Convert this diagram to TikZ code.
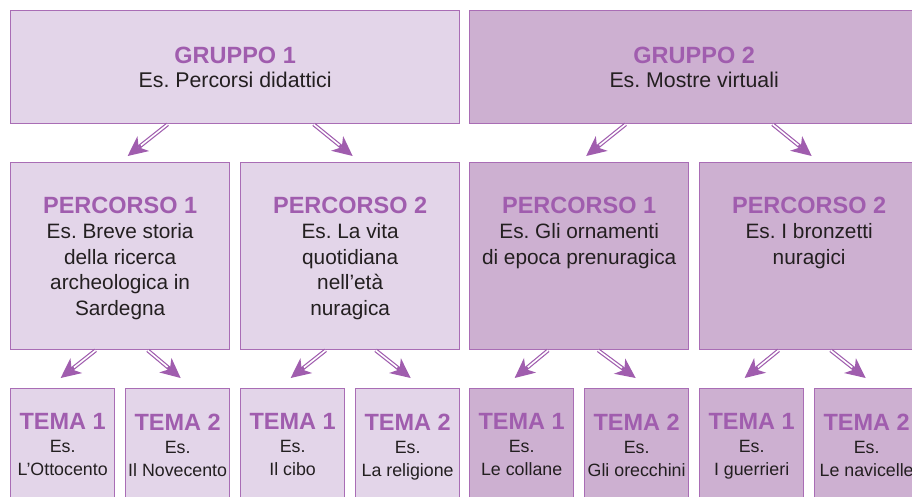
\documentclass[tikz,border=0pt]{standalone}
\usepackage{fontspec}
\setmainfont{Liberation Sans}
\usepackage{xcolor}
\usetikzlibrary{arrows.meta}

\definecolor{lilacLight}{HTML}{E3D5E9}
\definecolor{lilacDark}{HTML}{CDB0D1}
\definecolor{lilacLine}{HTML}{A96DB5}
\definecolor{lilacTitle}{HTML}{A05DAE}
\definecolor{inkGrey}{HTML}{231F20}

\newcommand{\boxtitle}[1]{{\fontsize{23.5}{26}\selectfont\bfseries\color{lilacTitle}#1}}
\frenchspacing

\begin{document}
\begin{tikzpicture}[x=1pt,y=-1pt]
        % Box and arrow style definitions
        \tikzset{
            box/.style={draw=lilacLine, line width=1.3pt, anchor=north west, inner sep=0pt},
            light/.style={box, fill=lilacLight},
            dark/.style={box, fill=lilacDark},
            groupbox/.style={minimum width=449pt, minimum height=113pt},
            pathbox/.style={minimum width=219pt, minimum height=187pt},
            themebox/.style={minimum width=104pt, minimum height=140pt},
            boxtext/.style={anchor=north, inner sep=0pt, align=center, text=inkGrey},
            grouptext/.style={boxtext, font=\fontsize{21.3}{24}\selectfont},
            pathtext/.style={boxtext, font=\fontsize{20.8}{25.6}\selectfont},
            themetext/.style={boxtext, font=\fontsize{17.8}{23}\selectfont},
            arr/.style={draw=lilacTitle, line width=4pt,
                arrows={-Stealth[length=20pt,width=19pt,inset=6pt,line width=0pt,fill=lilacTitle]},
                postaction={draw=white, line width=1.6pt, shorten >=17pt, arrows=-}}
        }

        \useasboundingbox (0,0) rectangle (912,496);
        \clip (0,0) rectangle (912,496);

        % ==========================================
        % GROUPS
        % ==========================================

        \node[light, groupbox] (g1) at (10,10) {};
        \node[dark, groupbox] (g2) at (469,10) {};
        \node[grouptext] (g1t) at ([yshift=-36.5pt]g1.north) {\boxtitle{GRUPPO 1}\\Es. Percorsi didattici};
        \node[grouptext] (g2t) at ([yshift=-36.5pt]g2.north) {\boxtitle{GRUPPO 2}\\Es. Mostre virtuali};

        % ==========================================
        % PERCORSI
        % ==========================================

        \node[light, pathbox] (p1) at (10,162) {};
        \node[light, pathbox] (p2) at (240,162) {};
        \node[dark, pathbox] (p3) at (469,162) {};
        \node[dark, pathbox] (p4) at (699,162) {};

        \node[pathtext] (p1t) at ([yshift=-34.5pt]p1.north) {\boxtitle{PERCORSO 1}\\Es. Breve storia\\della ricerca\\archeologica in\\Sardegna};
        \node[pathtext] (p2t) at ([yshift=-34.5pt]p2.north) {\boxtitle{PERCORSO 2}\\Es. La vita\\quotidiana\\nell’età\\nuragica};
        \node[pathtext] (p3t) at ([yshift=-34.5pt]p3.north) {\boxtitle{PERCORSO 1}\\Es. Gli ornamenti\\di epoca prenuragica};
        \node[pathtext] (p4t) at ([yshift=-34.5pt]p4.north) {\boxtitle{PERCORSO 2}\\Es. I bronzetti\\nuragici};

        % ==========================================
        % TEMI
        % ==========================================

        \node[light, themebox] (t1) at (10,388) {};
        \node[light, themebox] (t2) at (125,388) {};
        \node[light, themebox] (t3) at (240,388) {};
        \node[light, themebox] (t4) at (355,388) {};
        \node[dark, themebox] (t5) at (469,388) {};
        \node[dark, themebox] (t6) at (584,388) {};
        \node[dark, themebox] (t7) at (699,388) {};
        \node[dark, themebox] (t8) at (814,388) {};

        \node[themetext] (t1t) at ([yshift=-25.5pt]t1.north) {\boxtitle{TEMA 1}\\Es.\\L’Ottocento};
        \node[themetext] (t2t) at ([yshift=-25.5pt]t2.north) {\boxtitle{TEMA 2}\\Es.\\Il Novecento};
        \node[themetext] (t3t) at ([yshift=-25.5pt]t3.north) {\boxtitle{TEMA 1}\\Es.\\Il cibo};
        \node[themetext] (t4t) at ([yshift=-25.5pt]t4.north) {\boxtitle{TEMA 2}\\Es.\\La religione};
        \node[themetext] (t5t) at ([yshift=-25.5pt]t5.north) {\boxtitle{TEMA 1}\\Es.\\Le collane};
        \node[themetext] (t6t) at ([yshift=-25.5pt]t6.north) {\boxtitle{TEMA 2}\\Es.\\Gli orecchini};
        \node[themetext] (t7t) at ([yshift=-25.5pt]t7.north) {\boxtitle{TEMA 1}\\Es.\\I guerrieri};
        \node[themetext] (t8t) at ([yshift=-25.5pt]t8.north) {\boxtitle{TEMA 2}\\Es.\\Le navicelle};

        % ==========================================
        % ARROWS
        % ==========================================

        \draw[arr] ([xshift=-67.5pt]g1.south) -- ([xshift=7.5pt, yshift=6pt]p1.north);
        \draw[arr] ([xshift=78.5pt]g1.south) -- ([xshift=2.5pt, yshift=6pt]p2.north);
        \draw[arr] ([xshift=-68.5pt]g2.south) -- ([xshift=7pt, yshift=6pt]p3.north);
        \draw[arr] ([xshift=78.5pt]g2.south) -- ([xshift=2.5pt, yshift=6pt]p4.north);

        \draw[arr] ([xshift=-24.5pt]p1.south) -- ([xshift=-2pt, yshift=10pt]t1.north);
        \draw[arr] ([xshift=27.5pt]p1.south) -- ([xshift=3pt, yshift=10pt]t2.north);
        \draw[arr] ([xshift=-24.5pt]p2.south) -- ([xshift=-2pt, yshift=10pt]t3.north);
        \draw[arr] ([xshift=25.5pt]p2.south) -- ([xshift=3pt, yshift=10pt]t4.north);
        \draw[arr] ([xshift=-31pt]p3.south) -- ([xshift=-7pt, yshift=10pt]t5.north);
        \draw[arr] ([xshift=19pt]p3.south) -- ([xshift=-1pt, yshift=10pt]t6.north);
        \draw[arr] ([xshift=-30.5pt]p4.south) -- ([xshift=-7pt, yshift=10pt]t7.north);
        \draw[arr] ([xshift=21.5pt]p4.south) -- ([xshift=-1pt, yshift=10pt]t8.north);
    \end{tikzpicture}
\end{document}
